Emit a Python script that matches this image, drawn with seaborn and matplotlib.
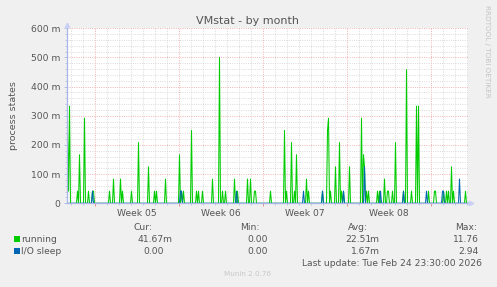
import numpy as np
import pandas as pd
import matplotlib
matplotlib.use("Agg")
import matplotlib.pyplot as plt
import matplotlib.dates as mdates
import seaborn as sns
from matplotlib.patches import Rectangle

# ---------------- data ----------------
start_time = "2026-01-22 18:00"
n_slots = 401            # one sample every 2 hours
sample_freq = "2h"

# running processes: slot index -> value in milli-processes
running_slots = [0, 1, 2, 10, 12, 17, 21, 25, 26, 42, 46, 53, 55, 64, 71, 81, 87, 89,
                 98, 112, 114, 116, 124, 129, 131, 135, 145, 152, 155, 158, 167, 170,
                 180, 183, 187, 188, 203, 217, 219, 224, 227, 229, 239, 241, 255, 260,
                 261, 263, 268, 272, 274, 276, 282, 294, 296, 297, 299, 301, 310, 312,
                 317, 320, 321, 325, 328, 336, 339, 344, 349, 351, 361, 367, 368, 376,
                 379, 381, 384, 386, 398]
running_values = [250.0, 41.7, 333.3, 41.7, 166.7, 291.7, 41.7, 41.7, 41.7, 41.7, 83.3,
                  83.3, 41.7, 41.7, 208.3, 125.0, 41.7, 41.7, 83.3, 166.7, 41.7, 41.7,
                  250.0, 41.7, 41.7, 41.7, 83.3, 500.0, 41.7, 41.7, 83.3, 41.7, 83.3,
                  83.3, 41.7, 41.7, 41.7, 250.0, 41.7, 208.3, 41.7, 166.7, 83.3, 41.7,
                  41.7, 250.0, 291.7, 41.7, 125.0, 208.3, 41.7, 41.7, 125.0, 291.7,
                  166.7, 125.0, 41.7, 41.7, 41.7, 41.7, 83.3, 41.7, 41.7, 41.7, 208.3,
                  41.7, 458.3, 41.7, 333.3, 333.3, 41.7, 41.7, 41.7, 41.7, 41.7, 41.7,
                  125.0, 41.7, 41.7]

# I/O sleep: slot index -> value in milli-processes
io_slots = [25, 113, 114, 169, 236, 255, 276, 297, 313, 336, 359, 375, 376, 392]
io_values = [41.7, 41.7, 41.7, 41.7, 41.7, 41.7, 41.7, 125.0, 41.7, 41.7, 41.7, 41.7,
             41.7, 83.3]

series_names = ["running", "I/O sleep"]
series_colors = ["#00CC00", "#0066B3"]

y_ticks = [0, 100, 200, 300, 400, 500, 600]
y_tick_labels = ["0", "100 m", "200 m", "300 m", "400 m", "500 m", "600 m"]
week_labels = ["Week 05", "Week 06", "Week 07", "Week 08"]

stat_headers = ["Cur:", "Min:", "Avg:", "Max:"]
cur_vals = [("41.67", "m"), ("0.00", "")]
min_vals = [("0.00", ""), ("0.00", "")]
avg_vals = [("22.51", "m"), ("1.67", "m")]
max_vals = [("11.76", ""), ("2.94", "")]

title = "VMstat - by month"
y_label = "process states"
last_update = "Last update: Tue Feb 24 23:30:00 2026"
footer = "Munin 2.0.76"
side_text = "RRDTOOL / TOBI OETIKER"

# ---------------- build long-form table ----------------
times = pd.date_range(start_time, periods=n_slots, freq=sample_freq)
running = np.zeros(n_slots)
running[running_slots] = running_values
io = np.zeros(n_slots)
io[io_slots] = io_values
df = pd.concat([
    pd.DataFrame({"time": times, "value": running, "series": series_names[0]}),
    pd.DataFrame({"time": times, "value": io, "series": series_names[1]}),
], ignore_index=True)

# ---------------- figure ----------------
W, H = 497, 287
fig = plt.figure(figsize=(W / 100, H / 100), dpi=100)
fig.patch.set_facecolor("#F0F0F0")

def fx(px):
    return px / W

def fy(py):
    return 1 - py / H

ax_left, ax_right, ax_top, ax_bottom = 67, 468, 28.3, 203.3
ax = fig.add_axes([fx(ax_left), fy(ax_bottom), fx(ax_right - ax_left), (ax_bottom - ax_top) / H])
ax.set_facecolor("#FFFFFF")

sns.lineplot(data=df, x="time", y="value", hue="series", hue_order=series_names,
             palette=dict(zip(series_names, series_colors)), legend=False,
             estimator=None, linewidth=0.75, ax=ax)

t0 = times[0] - pd.Timedelta(hours=1)
t1 = times[0] + pd.Timedelta(hours=801)
ax.set_xlim(t0, t1)
ax.set_ylim(0, 600)

axis_col = "#A9B5E6"
text_col = "#555555"
minor_grid = "#D6D6D6"
major_grid = "#F0A8A8"

# y axis
ax.set_yticks(y_ticks)
ax.set_yticklabels(y_tick_labels)
ax.set_yticks(np.arange(0, 601, 20), minor=True)
# x axis: week boundaries (Sunday) major, days minor
ax.xaxis.set_major_locator(mdates.WeekdayLocator(byweekday=mdates.SU))
ax.xaxis.set_minor_locator(mdates.DayLocator())
ax.xaxis.set_major_formatter(matplotlib.ticker.NullFormatter())

dots = (0, (1, 1.5))
ax.grid(which="minor", axis="both", color=minor_grid, linestyle=dots, linewidth=0.65, zorder=0)
ax.grid(which="major", axis="both", color=major_grid, linestyle=dots, linewidth=0.65, zorder=0)
ax.set_axisbelow(True)

ax.tick_params(axis="y", which="major", length=2, width=0.6, color=axis_col,
               labelsize=6.6, labelcolor=text_col, pad=3)
ax.tick_params(axis="y", which="minor", length=1.5, width=0.5, color=axis_col)
ax.tick_params(axis="x", which="major", length=2.5, width=0.6, color="#E08080")
ax.tick_params(axis="x", which="minor", length=1.5, width=0.5, color=axis_col)

ax.set_xlabel("")
ax.set_ylabel("")

for s in ["top", "right"]:
    ax.spines[s].set_visible(False)
for s in ["left", "bottom"]:
    ax.spines[s].set_color(axis_col)
    ax.spines[s].set_linewidth(0.9)

# axis arrows
ax.plot([1 + 3 / 401], [0], marker=">", ms=3.2, color="#C8D0F4", transform=ax.transAxes,
        clip_on=False, zorder=5)
ax.plot([0], [1 + 3 / 175], marker="^", ms=3.2, color="#C8D0F4", transform=ax.transAxes,
        clip_on=False, zorder=5)

# week labels centred mid-week
week_starts = pd.date_range("2026-01-25", periods=4, freq="7D")
blend = matplotlib.transforms.blended_transform_factory(ax.transData, fig.transFigure)
for ws, lab in zip(week_starts, week_labels):
    mid = ws + pd.Timedelta(days=3.5)
    ax.text(mdates.date2num(mid), fy(213.5), lab, transform=blend, ha="center",
            va="center", fontsize=6.6, color=text_col)

# title, labels
fig.text(fx(248), fy(21.5), title, ha="center", va="center", fontsize=8, color=text_col)
fig.text(fx(14), fy(115.5), y_label, rotation=90, ha="center", va="center",
         fontsize=6.8, color=text_col)
fig.text(fx(487.5), fy(51), side_text, rotation=270, ha="center", va="center",
         fontsize=5.2, color="#C4C4C4")

# legend block
fs = 6.6
header_x = [133, 240, 348, 455]
for hx, h in zip(header_x, stat_headers):
    fig.text(fx(hx), fy(227), h, ha="left", va="center", fontsize=fs, color=text_col)

row_y = [239, 251]
anchors = [164, 268, 371, 479]
for r, (name, col) in enumerate(zip(series_names, series_colors)):
    y = row_y[r]
    fig.patches.append(Rectangle((fx(14), fy(y + 3)), fx(6), 6 / H, transform=fig.transFigure,
                                 facecolor=col, edgecolor="none"))
    fig.text(fx(21), fy(y), name, ha="left", va="center", fontsize=fs, color=text_col)
    for ax_x, vals in zip(anchors, [cur_vals, min_vals, avg_vals, max_vals]):
        num, suf = vals[r]
        fig.text(fx(ax_x), fy(y), num, ha="right", va="center", fontsize=fs, color=text_col)
        if suf:
            fig.text(fx(ax_x - 1.5), fy(y), suf, ha="left", va="center", fontsize=fs,
                     color=text_col)

fig.text(fx(482), fy(263), last_update, ha="right", va="center", fontsize=fs, color=text_col)
fig.text(fx(248), fy(274.5), footer, ha="center", va="center", fontsize=5.2, color="#C8C8C8")

fig.savefig("out.png", dpi=100, facecolor=fig.get_facecolor())
